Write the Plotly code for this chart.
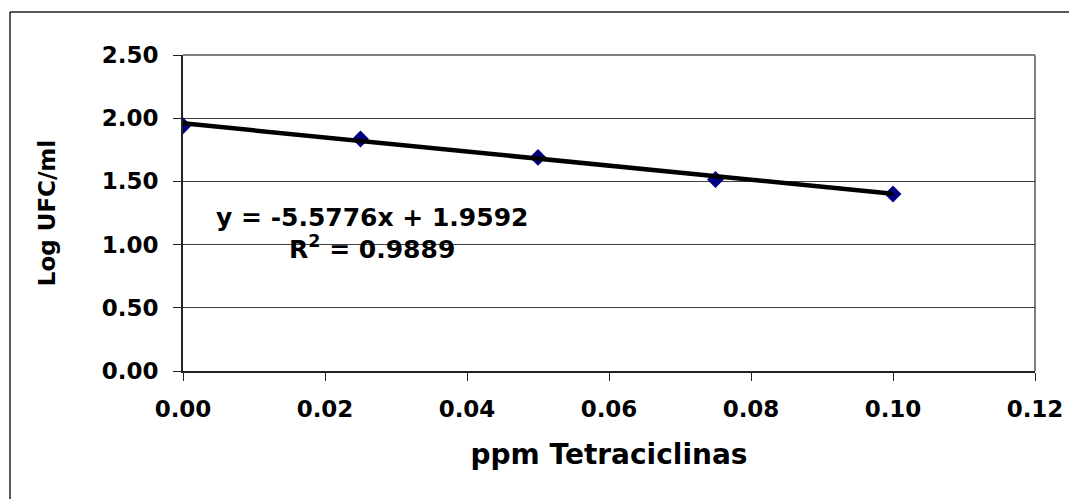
import plotly.graph_objects as go

# Data
ppm = [0.0, 0.025, 0.05, 0.075, 0.1]
log_ufc = [1.94, 1.835, 1.69, 1.515, 1.40]
slope = -5.5776
intercept = 1.9592
r_squared = 0.9889
x_ticks = [0.0, 0.02, 0.04, 0.06, 0.08, 0.10, 0.12]
y_ticks = [0.0, 0.5, 1.0, 1.5, 2.0, 2.5]

trend_x = [min(ppm), max(ppm)]
trend_y = [slope * v + intercept for v in trend_x]

FONT = "DejaVu Sans"
OFF = 8  # page offset of the figure
W, H = 1077, 499
L, R, T, B = 183 - OFF, 42 + OFF, 55 - OFF, 128 + OFF
pw, ph = W - L - R, H - T - B

fig = go.Figure()
fig.add_trace(go.Scatter(
    x=ppm, y=log_ufc, mode="markers",
    marker=dict(symbol="diamond", size=13, color="#000080",
                line=dict(width=0)),
    showlegend=False, hoverinfo="x+y"))
fig.add_trace(go.Scatter(
    x=trend_x, y=trend_y, mode="lines",
    line=dict(color="black", width=4.5),
    showlegend=False, hoverinfo="skip"))

def px2paper_x(px):
    return (px - OFF - L) / pw

def px2paper_y(py):
    return (H - B - (py - OFF)) / ph

shapes = [
    dict(type="line", xref="paper", yref="paper",
         x0=px2paper_x(10), x1=px2paper_x(10), y0=px2paper_y(12), y1=px2paper_y(540),
         line=dict(color="#222222", width=1.5)),
    dict(type="line", xref="paper", yref="paper",
         x0=px2paper_x(10), x1=px2paper_x(1120), y0=px2paper_y(12), y1=px2paper_y(12),
         line=dict(color="#222222", width=1.5)),
    dict(type="line", xref="paper", yref="paper", x0=0, x1=1, y0=1, y1=1,
         line=dict(color="#808080", width=2), layer="below"),
    dict(type="line", xref="paper", yref="paper", x0=1, x1=1, y0=0, y1=1,
         line=dict(color="#808080", width=2), layer="below"),
]

eq_text = f"y = {slope:.4f}x + {intercept:.4f}"
r2_text = f"R<sup>2</sup> = {r_squared:.4f}"

annotations = [
    dict(text=eq_text, xref="paper", yref="paper",
         x=px2paper_x(372), y=px2paper_y(217), showarrow=False,
         xanchor="center", yanchor="middle",
         font=dict(family=FONT, size=25, color="black", weight="bold")),
    dict(text=r2_text, xref="paper", yref="paper",
         x=px2paper_x(372), y=px2paper_y(248), showarrow=False,
         xanchor="center", yanchor="middle",
         font=dict(family=FONT, size=25, color="black", weight="bold")),
]

fig.update_layout(
    width=W, height=H,
    margin=dict(l=L, r=R, t=T, b=B),
    paper_bgcolor="white", plot_bgcolor="white",
    font=dict(family=FONT, color="black"),
    shapes=shapes, annotations=annotations,
    xaxis=dict(
        range=[0, 0.12], tickvals=x_ticks,
        ticktext=[f"{v:.2f}" for v in x_ticks],
        showgrid=False, zeroline=False,
        showline=True, linecolor="#222222", linewidth=2,
        ticks="outside", ticklen=8, tickcolor="#222222", tickwidth=1,
        ticklabelstandoff=8,
        tickfont=dict(family=FONT, size=23, color="black", weight="bold"),
        title=dict(text="ppm Tetraciclinas", standoff=24,
                   font=dict(family=FONT, size=28, color="black", weight="bold")),
    ),
    yaxis=dict(
        range=[0, 2.5], tickvals=y_ticks,
        ticktext=[f"{v:.2f}" for v in y_ticks],
        showgrid=True, gridcolor="#404040", gridwidth=1,
        zeroline=False,
        showline=True, linecolor="#222222", linewidth=2,
        ticks="outside", ticklen=8, tickcolor="#222222", tickwidth=1,
        ticklabelstandoff=10,
        tickfont=dict(family=FONT, size=23, color="black", weight="bold"),
        title=dict(text="Log UFC/ml", standoff=40,
                   font=dict(family=FONT, size=23, color="black", weight="bold")),
    ),
)

fig.write_html("out.html")
